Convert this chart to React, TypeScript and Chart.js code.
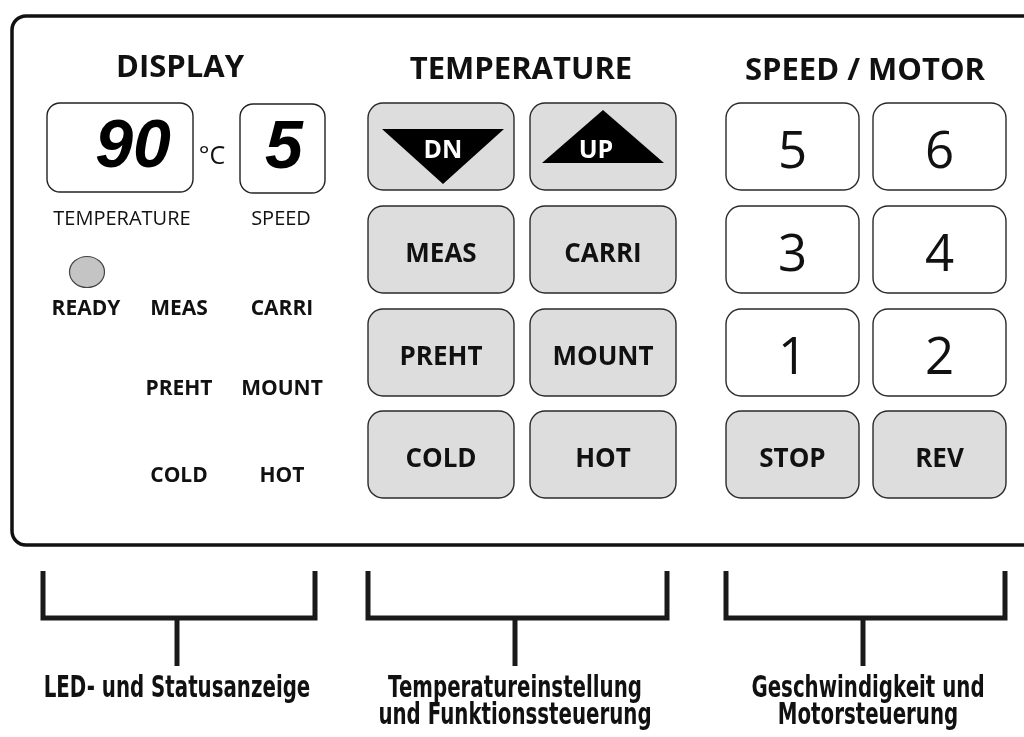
import React, { useEffect, useRef } from "react";
import { Chart, registerables } from "chart.js";

Chart.register(...registerables);

// ---- content ----
const SECTION_TITLES = ["DISPLAY", "TEMPERATURE", "SPEED / MOTOR"];
const DISPLAY_VALUES = ["90", "5"];
const DISPLAY_LABELS = ["TEMPERATURE", "SPEED"];
const DISPLAY_UNIT = "°C";
const STATUS_ROWS = [
  ["READY", "MEAS", "CARRI"],
  ["", "PREHT", "MOUNT"],
  ["", "COLD", "HOT"],
];
const TEMP_BUTTONS = ["DN", "UP", "MEAS", "CARRI", "PREHT", "MOUNT", "COLD", "HOT"];
const SPEED_BUTTONS = ["5", "6", "3", "4", "1", "2", "STOP", "REV"];
const GROUP_CAPTIONS = [
  ["LED- und Statusanzeige"],
  ["Temperatureinstellung", "und Funktionssteuerung"],
  ["Geschwindigkeit und", "Motorsteuerung"],
];

// ---- layout (scale units) ----
const W = 1024;
const H = 737;
const TITLE_X = [180, 521, 865];
const TITLE_BASE = [77, 79, 80];
const ROW_TOP = [103, 206, 309, 411];
const ROW_H = 87;
const TEMP_COL = [368, 530];
const TEMP_W = 146;
const SPEED_COL = [726, 873];
const SPEED_W = 133;
const BRACKETS = [
  [43, 315, 177],
  [368, 667, 515],
  [726, 1005, 863],
];

const FONT = '"Open Sans", "DejaVu Sans", sans-serif';

const panelPlugin = {
  id: "panelDiagram",
  beforeDraw(chart: any) {
    const c = chart.ctx;
    c.save();
    c.fillStyle = "#ffffff";
    c.fillRect(0, 0, chart.width, chart.height);
    c.restore();
  },
  afterDraw(chart: any) {
    const c: CanvasRenderingContext2D = chart.ctx;
    const xs = chart.scales.x;
    const ys = chart.scales.y;
    const X = (v: number) => xs.getPixelForValue(v);
    const Y = (v: number) => ys.getPixelForValue(v);
    const rrect = (x0: number, y0: number, x1: number, y1: number, r: number, fill: string | null, stroke: string, lw: number) => {
      c.beginPath();
      c.roundRect(X(x0), Y(y0), X(x1) - X(x0), Y(y1) - Y(y0), r);
      if (fill) {
        c.fillStyle = fill;
        c.fill();
      }
      c.lineWidth = lw;
      c.strokeStyle = stroke;
      c.stroke();
    };
    const text = (s: string, x: number, y: number, font: string, color = "#111") => {
      c.font = font;
      c.fillStyle = color;
      c.textAlign = "center";
      c.textBaseline = "alphabetic";
      c.fillText(s, X(x), Y(y));
    };
    c.save();

    // outer panel
    rrect(12, 16, 1040, 545, 14, null, "#111", 3.5);

    // section titles
    SECTION_TITLES.forEach((t, i) => text(t, TITLE_X[i], TITLE_BASE[i], `bold 31px ${FONT}`));

    // display boxes
    rrect(47, 103, 193, 192, 13, "#fff", "#222", 1.4);
    rrect(240, 104, 325, 193, 13, "#fff", "#222", 1.4);
    text(DISPLAY_VALUES[0], 133, 167, 'italic bold 68px "Liberation Sans", Arial, sans-serif', "#000");
    text(DISPLAY_VALUES[1], 284, 168, 'italic bold 68px "Liberation Sans", Arial, sans-serif', "#000");
    text(DISPLAY_UNIT, 212, 164, `25px ${FONT}`);
    text(DISPLAY_LABELS[0], 122, 225, `20px ${FONT}`);
    text(DISPLAY_LABELS[1], 281, 225, `20px ${FONT}`);

    // LED
    c.beginPath();
    c.ellipse(X(87), Y(272), 17.5, 15.5, 0, 0, Math.PI * 2);
    c.fillStyle = "#c4c4c4";
    c.fill();
    c.lineWidth = 1.2;
    c.strokeStyle = "#444";
    c.stroke();

    // status labels
    const statusX = [86, 179, 282];
    const statusBase = [315, 395, 482];
    STATUS_ROWS.forEach((row, r) =>
      row.forEach((s, k) => {
        if (s) text(s, statusX[k], statusBase[r], `bold 21px ${FONT}`);
      })
    );

    // temperature buttons
    TEMP_BUTTONS.forEach((s, i) => {
      const col = i % 2;
      const row = Math.floor(i / 2);
      const x0 = TEMP_COL[col];
      const y0 = ROW_TOP[row];
      rrect(x0, y0, x0 + TEMP_W, y0 + ROW_H, 15, "#dddddd", "#2a2a2a", 1.4);
      if (row === 0) {
        c.beginPath();
        if (col === 0) {
          c.moveTo(X(382), Y(129));
          c.lineTo(X(504), Y(129));
          c.lineTo(X(443), Y(184));
        } else {
          c.moveTo(X(542), Y(163));
          c.lineTo(X(664), Y(163));
          c.lineTo(X(603), Y(110));
        }
        c.closePath();
        c.fillStyle = "#000";
        c.fill();
        text(s, col === 0 ? 443 : 596, 158, `bold 25px ${FONT}`, "#fff");
      } else {
        text(s, x0 + TEMP_W / 2, y0 + ROW_H / 2 + 12, `bold 26px ${FONT}`);
      }
    });

    // speed buttons
    SPEED_BUTTONS.forEach((s, i) => {
      const col = i % 2;
      const row = Math.floor(i / 2);
      const x0 = SPEED_COL[col];
      const y0 = ROW_TOP[row];
      const numeric = /^\d+$/.test(s);
      rrect(x0, y0, x0 + SPEED_W, y0 + ROW_H, 15, numeric ? "#ffffff" : "#dddddd", "#2a2a2a", 1.4);
      if (numeric) text(s, x0 + SPEED_W / 2, y0 + ROW_H / 2 + 21, `51px ${FONT}`);
      else text(s, x0 + SPEED_W / 2, y0 + ROW_H / 2 + 12, `bold 26px ${FONT}`);
    });

    // brackets
    c.strokeStyle = "#1a1a1a";
    c.lineWidth = 5;
    c.lineCap = "butt";
    c.lineJoin = "miter";
    BRACKETS.forEach(([l, r, m]) => {
      c.beginPath();
      c.moveTo(X(l), Y(571));
      c.lineTo(X(l), Y(618));
      c.lineTo(X(r), Y(618));
      c.lineTo(X(r), Y(571));
      c.stroke();
      c.beginPath();
      c.moveTo(X(m), Y(618));
      c.lineTo(X(m), Y(666));
      c.stroke();
    });

    // captions (condensed)
    const squeeze = 0.66;
    GROUP_CAPTIONS.forEach((lines, g) => {
      const cx = BRACKETS[g][2] + (g === 2 ? 5 : 0);
      lines.forEach((s, li) => {
        c.save();
        c.font = 'bold 30px "DejaVu Sans", sans-serif';
        c.fillStyle = "#111";
        c.textAlign = "center";
        c.textBaseline = "alphabetic";
        c.translate(X(cx), Y(697 + li * 27));
        c.scale(squeeze, 1);
        c.fillText(s, 0, 0);
        c.restore();
      });
    });

    c.restore();
  },
};

export default function App() {
  const ref = useRef<HTMLCanvasElement | null>(null);
  useEffect(() => {
    document.body.style.margin = "0";
    const canvas = ref.current;
    if (!canvas) return;
    const chart = new Chart(canvas, {
      type: "scatter",
      data: { datasets: [{ data: [], pointRadius: 0 }] },
      options: {
        responsive: false,
        animation: false,
        devicePixelRatio: 1,
        layout: { padding: 0 },
        plugins: { legend: { display: false }, tooltip: { enabled: false } },
        scales: {
          x: { type: "linear", min: 0, max: W, display: false },
          y: { type: "linear", min: 0, max: H, reverse: true, display: false },
        },
      },
      plugins: [panelPlugin],
    });
    return () => chart.destroy();
  }, []);
  return (
    <div style={{ position: "fixed", left: 0, top: 0, width: W, height: H, background: "#fff" }}>
      <canvas ref={ref} width={W} height={H} style={{ display: "block" }} />
    </div>
  );
}
